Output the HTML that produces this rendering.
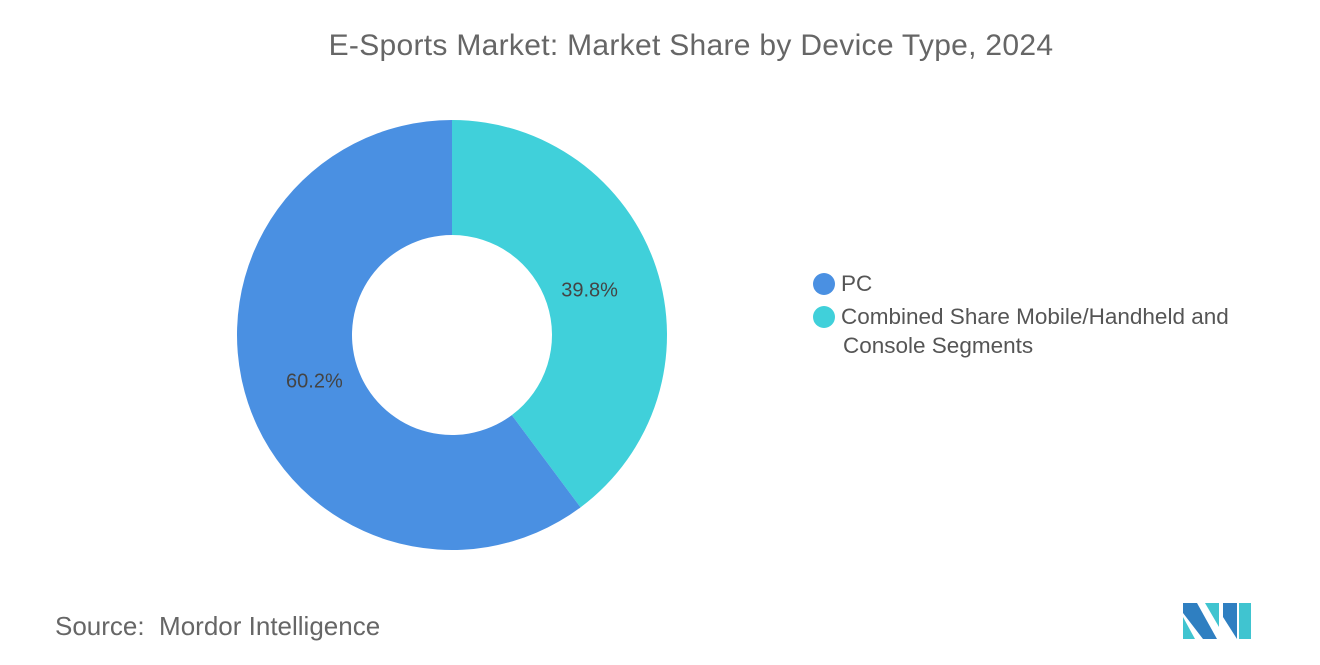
<!DOCTYPE html>
<html><head><meta charset="utf-8"><style>
body{margin:0;width:1320px;height:665px;background:#fff;font-family:"Liberation Sans",sans-serif;position:relative;overflow:hidden}
.t{position:absolute}
</style></head><body>
<div class="t" style="left:0;width:1382px;top:29px;text-align:center;font-size:30px;color:#666;letter-spacing:0.3px">E-Sports Market: Market Share by Device Type, 2024</div>
<svg id="chart" width="1320" height="665" style="position:absolute;left:0;top:0"></svg>
<div class="t" style="left:813px;top:271px;font-size:22.5px;color:#555"><span style="display:inline-block;width:22px;height:22px;border-radius:50%;background:#4a90e2;vertical-align:-4px;margin-right:6px"></span>PC</div>
<div class="t" style="left:813px;top:302px;font-size:22.5px;color:#555;line-height:29px"><span style="display:inline-block;width:22px;height:22px;border-radius:50%;background:#40d0da;vertical-align:-4px;margin-right:6px"></span>Combined Share Mobile/Handheld and<br><span style="margin-left:30px">Console Segments</span></div>
<div class="t" style="left:55px;top:611px;font-size:26px;color:#666">Source:&nbsp; Mordor Intelligence</div>
<svg class="t" style="left:1183px;top:603px" width="68" height="36">
<polygon points="0,0 14,0 34,36 20,36 0,10" fill="#2f7fc1"/><polygon points="0,14 12,36 0,36" fill="#40c4d0"/>
<polygon points="22,0 36,0 36,24" fill="#40c4d0"/><polygon points="40,0 54,0 54,36 40,14" fill="#2f7fc1"/><polygon points="56,0 68,0 68,36 56,36" fill="#40c4d0"/>
</svg>
<script>
const categories=["Combined Share Mobile/Handheld and Console Segments","PC"];
const values=[39.8,60.2];
const labels=["39.8%","60.2%"];
const colors=["#40d0da","#4a90e2"];
const svg=document.getElementById('chart');
const cx=452,cy=335,R=215,r=100;
const tot=values.reduce((a,b)=>a+b,0);
let a0=0;
function pt(a,rad){return [cx+rad*Math.sin(a),cy-rad*Math.cos(a)];}
values.forEach((v,i)=>{
 const a1=a0+v/tot*2*Math.PI;
 const [x0,y0]=pt(a0,R),[x1,y1]=pt(a1,R),[x2,y2]=pt(a1,r),[x3,y3]=pt(a0,r);
 const lg=(a1-a0)>Math.PI?1:0;
 const p=document.createElementNS('http://www.w3.org/2000/svg','path');
 p.setAttribute('d',`M${x0},${y0}A${R},${R} 0 ${lg} 1 ${x1},${y1}L${x2},${y2}A${r},${r} 0 ${lg} 0 ${x3},${y3}Z`);
 p.setAttribute('fill',colors[i]);
 
 
 svg.appendChild(p);
 const m=(a0+a1)/2;const [lx,ly]=pt(m,145);
 const t=document.createElementNS('http://www.w3.org/2000/svg','text');
 t.setAttribute('x',lx);t.setAttribute('y',ly+7);t.setAttribute('text-anchor','middle');
 t.setAttribute('font-size','20');t.setAttribute('fill','#444');t.setAttribute('font-family','Liberation Sans, sans-serif');
 t.textContent=labels[i];
 
 
 svg.appendChild(t);
 a0=a1;
});
</script>
</body></html>
